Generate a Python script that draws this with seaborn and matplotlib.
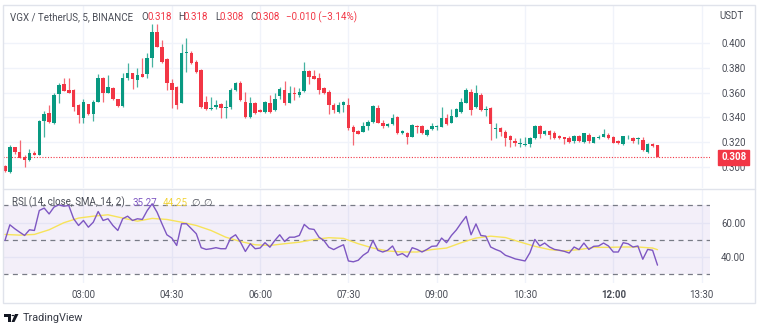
import numpy as np
import pandas as pd
import matplotlib
matplotlib.use("Agg")
import matplotlib.pyplot as plt
from matplotlib.patches import Rectangle, Polygon, Circle
from matplotlib.lines import Line2D
import seaborn as sns

# ---------------- data ----------------
times = pd.date_range("2023-01-01 01:40", periods=134, freq="5min")

opens = [0.3010, 0.2965, 0.3160, 0.3120, 0.3080, 0.3057, 0.3117, 0.3100, 0.3373, 0.3437,
         0.3352, 0.3588, 0.3668, 0.3620, 0.3620, 0.3500, 0.3392, 0.3507, 0.3427, 0.3526,
         0.3713, 0.3600, 0.3639, 0.3545, 0.3494, 0.3713, 0.3754, 0.3700, 0.3748, 0.3746,
         0.3874, 0.4088, 0.3968, 0.3869, 0.3673, 0.3641, 0.3518, 0.3918, 0.3920, 0.3847,
         0.3780, 0.3526, 0.3464, 0.3480, 0.3505, 0.3478, 0.3480, 0.3620, 0.3679, 0.3526,
         0.3406, 0.3518, 0.3460, 0.3443, 0.3518, 0.3460, 0.3572, 0.3620, 0.3518, 0.3600,
         0.3580, 0.3614, 0.3775, 0.3732, 0.3713, 0.3633, 0.3607, 0.3500, 0.3443, 0.3500,
         0.3500, 0.3320, 0.3290, 0.3285, 0.3330, 0.3366, 0.3472, 0.3357, 0.3330, 0.3346,
         0.3406, 0.3272, 0.3277, 0.3245, 0.3335, 0.3330, 0.3258, 0.3304, 0.3325, 0.3325,
         0.3392, 0.3357, 0.3406, 0.3446, 0.3518, 0.3607, 0.3480, 0.3580, 0.3460, 0.3472,
         0.3306, 0.3312, 0.3285, 0.3250, 0.3213, 0.3186, 0.3180, 0.3186, 0.3231, 0.3330,
         0.3266, 0.3293, 0.3277, 0.3250, 0.3240, 0.3231, 0.3213, 0.3250, 0.3205, 0.3258,
         0.3197, 0.3238, 0.3245, 0.3258, 0.3240, 0.3213, 0.3186, 0.3240, 0.3231, 0.3223,
         0.3218, 0.3124, 0.3186, 0.3180]
highs = [0.3020, 0.3180, 0.3165, 0.3220, 0.3100, 0.3143, 0.3130, 0.3380, 0.3453, 0.3500,
         0.3600, 0.3680, 0.3713, 0.3713, 0.3625, 0.3510, 0.3545, 0.3510, 0.3540, 0.3748,
         0.3727, 0.3740, 0.3645, 0.3550, 0.3754, 0.3834, 0.3760, 0.3794, 0.3874, 0.3914,
         0.4150, 0.4150, 0.4020, 0.3874, 0.3706, 0.3650, 0.3990, 0.4040, 0.3935, 0.3860,
         0.3786, 0.3572, 0.3566, 0.3540, 0.3513, 0.3540, 0.3633, 0.3687, 0.3692, 0.3606,
         0.3560, 0.3526, 0.3465, 0.3530, 0.3580, 0.3600, 0.3647, 0.3692, 0.3652, 0.3647,
         0.3633, 0.3847, 0.3780, 0.3780, 0.3754, 0.3647, 0.3620, 0.3513, 0.3526, 0.3530,
         0.3553, 0.3338, 0.3300, 0.3366, 0.3380, 0.3500, 0.3500, 0.3378, 0.3352, 0.3427,
         0.3410, 0.3300, 0.3285, 0.3346, 0.3338, 0.3338, 0.3306, 0.3352, 0.3338, 0.3480,
         0.3427, 0.3464, 0.3472, 0.3553, 0.3633, 0.3625, 0.3660, 0.3593, 0.3490, 0.3486,
         0.3352, 0.3320, 0.3298, 0.3258, 0.3231, 0.3231, 0.3245, 0.3240, 0.3338, 0.3338,
         0.3300, 0.3300, 0.3293, 0.3258, 0.3245, 0.3250, 0.3258, 0.3258, 0.3277, 0.3277,
         0.3245, 0.3258, 0.3304, 0.3277, 0.3250, 0.3218, 0.3253, 0.3258, 0.3240, 0.3240,
         0.3240, 0.3197, 0.3191, 0.3180]
lows = [0.2960, 0.2956, 0.3110, 0.3070, 0.3000, 0.3050, 0.3097, 0.3097, 0.3240, 0.3357,
        0.3350, 0.3513, 0.3610, 0.3595, 0.3454, 0.3352, 0.3357, 0.3420, 0.3373, 0.3520,
        0.3526, 0.3595, 0.3540, 0.3486, 0.3486, 0.3700, 0.3625, 0.3647, 0.3725, 0.3713,
        0.3807, 0.3963, 0.3840, 0.3620, 0.3472, 0.3464, 0.3513, 0.3767, 0.3829, 0.3754,
        0.3472, 0.3460, 0.3459, 0.3470, 0.3392, 0.3392, 0.3470, 0.3615, 0.3535, 0.3392,
        0.3392, 0.3427, 0.3440, 0.3437, 0.3437, 0.3453, 0.3545, 0.3500, 0.3513, 0.3540,
        0.3560, 0.3607, 0.3668, 0.3706, 0.3588, 0.3588, 0.3427, 0.3432, 0.3437, 0.3446,
        0.3298, 0.3178, 0.3265, 0.3280, 0.3298, 0.3352, 0.3352, 0.3312, 0.3325, 0.3340,
        0.3266, 0.3266, 0.3186, 0.3240, 0.3277, 0.3266, 0.3250, 0.3298, 0.3298, 0.3320,
        0.3338, 0.3352, 0.3400, 0.3437, 0.3513, 0.3419, 0.3472, 0.3454, 0.3411, 0.3218,
        0.3231, 0.3250, 0.3170, 0.3165, 0.3170, 0.3165, 0.3170, 0.3160, 0.3223, 0.3231,
        0.3258, 0.3223, 0.3223, 0.3223, 0.3186, 0.3197, 0.3197, 0.3205, 0.3191, 0.3191,
        0.3191, 0.3223, 0.3240, 0.3226, 0.3191, 0.3186, 0.3180, 0.3223, 0.3197, 0.3186,
        0.3132, 0.3116, 0.3165, 0.3080]
closes = [0.2970, 0.3160, 0.3120, 0.3077, 0.3057, 0.3117, 0.3100, 0.3373, 0.3427, 0.3365,
          0.3580, 0.3660, 0.3614, 0.3600, 0.3480, 0.3420, 0.3526, 0.3427, 0.3526, 0.3713,
          0.3600, 0.3647, 0.3545, 0.3495, 0.3713, 0.3754, 0.3706, 0.3740, 0.3727, 0.3874,
          0.4088, 0.3968, 0.3847, 0.3673, 0.3620, 0.3500, 0.3920, 0.3922, 0.3834, 0.3767,
          0.3480, 0.3464, 0.3472, 0.3500, 0.3478, 0.3482, 0.3620, 0.3679, 0.3540, 0.3406,
          0.3518, 0.3432, 0.3443, 0.3526, 0.3443, 0.3545, 0.3625, 0.3518, 0.3600, 0.3588,
          0.3607, 0.3775, 0.3727, 0.3711, 0.3620, 0.3600, 0.3500, 0.3460, 0.3500, 0.3526,
          0.3312, 0.3285, 0.3270, 0.3330, 0.3366, 0.3491, 0.3357, 0.3330, 0.3346, 0.3392,
          0.3272, 0.3293, 0.3245, 0.3338, 0.3320, 0.3272, 0.3298, 0.3330, 0.3330, 0.3392,
          0.3346, 0.3410, 0.3464, 0.3526, 0.3620, 0.3460, 0.3598, 0.3460, 0.3468, 0.3346,
          0.3312, 0.3285, 0.3231, 0.3218, 0.3197, 0.3190, 0.3186, 0.3231, 0.3330, 0.3264,
          0.3293, 0.3258, 0.3231, 0.3231, 0.3229, 0.3205, 0.3250, 0.3213, 0.3272, 0.3213,
          0.3240, 0.3245, 0.3264, 0.3231, 0.3197, 0.3197, 0.3250, 0.3245, 0.3213, 0.3231,
          0.3138, 0.3186, 0.3170, 0.3080]

rsi = [49.6, 58.7, 56.4, 54.4, 52.5, 55.8, 55.4, 67.0, 68.4, 65.0,
       69.0, 70.3, 69.5, 69.9, 62.2, 58.3, 61.2, 57.3, 60.2, 66.4,
       61.2, 62.2, 58.3, 55.4, 62.2, 63.7, 61.2, 62.2, 61.8, 67.0,
       70.9, 66.0, 59.3, 52.9, 51.0, 46.7, 59.3, 59.3, 56.4, 53.5,
       45.4, 44.4, 44.8, 45.4, 44.8, 44.8, 51.0, 52.9, 48.6, 43.2,
       47.7, 44.8, 45.2, 48.3, 45.7, 49.6, 52.9, 49.0, 51.5, 51.5,
       52.5, 58.9, 56.4, 56.0, 51.5, 49.6, 45.7, 44.3, 45.8, 47.1,
       37.7, 37.2, 38.1, 41.0, 42.9, 49.6, 43.9, 42.9, 43.9, 46.4,
       41.0, 42.0, 40.0, 45.4, 44.4, 42.9, 44.4, 46.2, 46.4, 51.0,
       48.3, 52.5, 55.7, 59.8, 63.6, 52.9, 59.2, 52.5, 52.1, 45.8,
       44.4, 43.3, 41.0, 40.0, 38.9, 38.3, 37.7, 42.5, 50.2, 46.4,
       48.1, 45.8, 44.4, 43.9, 43.3, 42.3, 45.8, 44.3, 48.1, 44.4,
       46.2, 46.4, 48.1, 46.4, 42.9, 42.9, 48.3, 47.7, 45.8, 46.4,
       38.7, 44.4, 43.9, 35.27]

# RSI-based SMA, read every third bar (bar numbers 1-based) plus the last bar
sma_bars = [1, 4, 7, 10, 13, 16, 19, 22, 25, 28, 31, 34, 37, 40, 43, 46, 49, 52, 55, 58,
            61, 64, 67, 70, 73, 76, 79, 82, 85, 88, 91, 94, 97, 100, 103, 106, 109, 112,
            115, 118, 121, 124, 127, 130, 133, 134]
sma = [53.1, 52.7, 53.1, 55.8, 59.9, 62.6, 63.7, 64.5, 62.6, 60.8, 62.4, 61.8, 60.2, 58.3,
       55.4, 51.5, 49.0, 47.1, 46.7, 47.7, 48.6, 50.2, 51.2, 50.8, 47.7, 45.2, 43.5, 42.9,
       42.9, 44.3, 45.2, 48.3, 51.0, 52.1, 51.3, 48.7, 46.2, 44.3, 43.5, 44.3, 45.6, 45.6,
       45.8, 45.8, 45.2, 44.25]

price_ticks = [0.300, 0.320, 0.340, 0.360, 0.380, 0.400]
time_ticks = ["03:00", "04:30", "06:00", "07:30", "09:00", "10:30", "12:00", "13:30"]
last_price = 0.308

# ---------------- style ----------------
sns.set_theme(style="white")
plt.rcParams["font.family"] = ["Roboto", "DejaVu Sans"]

UP = "#089981"
DOWN = "#f23645"
GRID = "#f0f3fa"
TXT = "#4a4d57"
BORDER = "#e0e3eb"

W, H = 760, 327
fig = plt.figure(figsize=(W / 100, H / 100), dpi=100)


def fx(x):
    return x / W


def fy(y):
    return 1 - y / H


minutes = np.array([t.hour * 60 + t.minute for t in times])
tick_minutes = [int(s[:2]) * 60 + int(s[3:]) for s in time_ticks]
x0, x1 = 98, 818.5

ax = fig.add_axes([fx(3), fy(188), fx(710) - fx(3), fy(5) - fy(188)])
ax2 = fig.add_axes([fx(3), fy(283), fx(710) - fx(3), fy(190) - fy(283)])

# ---------------- price pane ----------------
for tm in tick_minutes:
    ax.axvline(tm, color=GRID, lw=1, zorder=0)
for p in price_ticks:
    ax.axhline(p, color=GRID, lw=1, zorder=0)

df = pd.DataFrame({"t": minutes, "o": opens, "h": highs, "l": lows, "c": closes})
df["up"] = df["c"] >= df["o"]
colors = np.where(df["up"], UP, DOWN)
ax.vlines(df["t"], df["l"], df["h"], colors=colors, lw=0.9, alpha=0.75, zorder=2)
body_h = np.maximum((df["c"] - df["o"]).abs(), 0.0006)
ax.bar(df["t"], body_h, bottom=np.minimum(df["o"], df["c"]), width=3.6,
       color=colors, linewidth=0, zorder=3)

ax.axhline(last_price, color=DOWN, lw=0.8, ls=(0, (1, 1.5)), zorder=1)
ax.set_xlim(x0, x1)
ax.set_ylim(0.2833, 0.4303)
ax.set_xticks([])
ax.yaxis.tick_right()
ax.set_yticks(price_ticks)
ax.set_yticklabels([f"{p:.3f}" for p in price_ticks])
ax.tick_params(axis="y", length=0, pad=8, labelsize=7, labelcolor=TXT)
for s in ax.spines.values():
    s.set_visible(False)

ax.annotate(f"{last_price:.3f}", xy=(1.0, last_price), xycoords=("axes fraction", "data"),
            xytext=(11, 0), textcoords="offset pixels", ha="left", va="center",
            fontsize=7, color="white", fontweight="bold",
            bbox=dict(boxstyle="square,pad=0.28", fc=DOWN, ec=DOWN))

# ---------------- RSI pane ----------------
for tm in tick_minutes:
    ax2.axvline(tm, color=GRID, lw=1, zorder=0)
for v in (60, 40):
    ax2.axhline(v, color=GRID, lw=1, zorder=0)
ax2.axhspan(30, 70, color="#7e57c2", alpha=0.09, lw=0, zorder=0)
for v in (70, 50, 30):
    ax2.axhline(v, color="#787b86", lw=0.9, ls=(0, (4, 3.5)), zorder=1)

sns.lineplot(x=minutes, y=rsi, ax=ax2, color="#7e57c2", lw=1.0, zorder=3)
sma_minutes = [minutes[b - 1] for b in sma_bars]
sns.lineplot(x=sma_minutes, y=sma, ax=ax2, color="#f7e35a", lw=1.0, zorder=2)

ax2.set_xlim(x0, x1)
ax2.set_ylim(24.9, 78.9)
ax2.yaxis.tick_right()
ax2.set_yticks([40, 60])
ax2.set_yticklabels(["40.00", "60.00"])
ax2.set_xticks(tick_minutes)
ax2.set_xticklabels(time_ticks)
ax2.set_xlabel("")
ax2.set_ylabel("")
ax2.tick_params(axis="y", length=0, pad=8, labelsize=7, labelcolor=TXT)
ax2.tick_params(axis="x", length=0, pad=5, labelsize=7, labelcolor=TXT)
for lab in ax2.get_xticklabels():
    if lab.get_text() == "12:00":
        lab.set_fontweight("bold")
for s in ax2.spines.values():
    s.set_visible(False)

# ---------------- frame ----------------
fig.add_artist(Rectangle((fx(3), fy(303)), fx(755) - fx(3), fy(5) - fy(303),
                         transform=fig.transFigure, fill=False, ec=BORDER, lw=1))
fig.add_artist(Line2D([fx(3), fx(755)], [fy(189), fy(189)], transform=fig.transFigure,
                      color=BORDER, lw=1))

# ---------------- legends ----------------
fs = 7
yT = fy(17)
fig.text(fx(10.5), yT, "VGX / TetherUS, 5, BINANCE", fontsize=fs, color=TXT, va="center")
for x, s, c in [(141, "O", TXT), (148, "0.318", DOWN), (178, "H", TXT), (184, "0.318", DOWN),
                (215, "L", TXT), (220, "0.308", DOWN), (250, "C", TXT), (256, "0.308", DOWN),
                (286, "\u22120.010 (\u22123.14%)", DOWN)]:
    fig.text(fx(x), yT, s, fontsize=fs, color=c, va="center")
fig.text(fx(719), fy(16), "USDT", fontsize=7, color=TXT, va="center")

yR = fy(202.5)
fig.text(fx(11.5), yR, "RSI (14, close, SMA, 14, 2)", fontsize=fs, color=TXT, va="center")
fig.text(fx(132.5), yR, "35.27", fontsize=fs, color="#7e57c2", va="center")
fig.text(fx(162.5), yR, "44.25", fontsize=fs, color="#f2d43a", va="center")
fig.text(fx(191), yR, "\u2205", fontsize=fs, color=TXT, va="center", family=["DejaVu Sans"])
fig.text(fx(203), yR, "\u2205", fontsize=fs, color=TXT, va="center", family=["DejaVu Sans"])

# TradingView logo + name
LOGO = "#131722"
fig.add_artist(Polygon([(fx(4), fy(314)), (fx(11), fy(314)), (fx(11), fy(322)),
                        (fx(8), fy(322)), (fx(8), fy(317)), (fx(4), fy(317))],
                       closed=True, transform=fig.transFigure, fc=LOGO, ec="none"))
fig.add_artist(Circle((fx(13), fy(315.5)), 1.5 / W, transform=fig.transFigure,
                      fc=LOGO, ec="none"))
fig.add_artist(Polygon([(fx(15), fy(314)), (fx(18.5), fy(314)), (fx(14.5), fy(322)),
                        (fx(11.5), fy(322))],
                       closed=True, transform=fig.transFigure, fc=LOGO, ec="none"))
fig.text(fx(22.5), fy(318), "TradingView", fontsize=7.8, color="#363a45", va="center")

fig.savefig("out.png", dpi=100)
